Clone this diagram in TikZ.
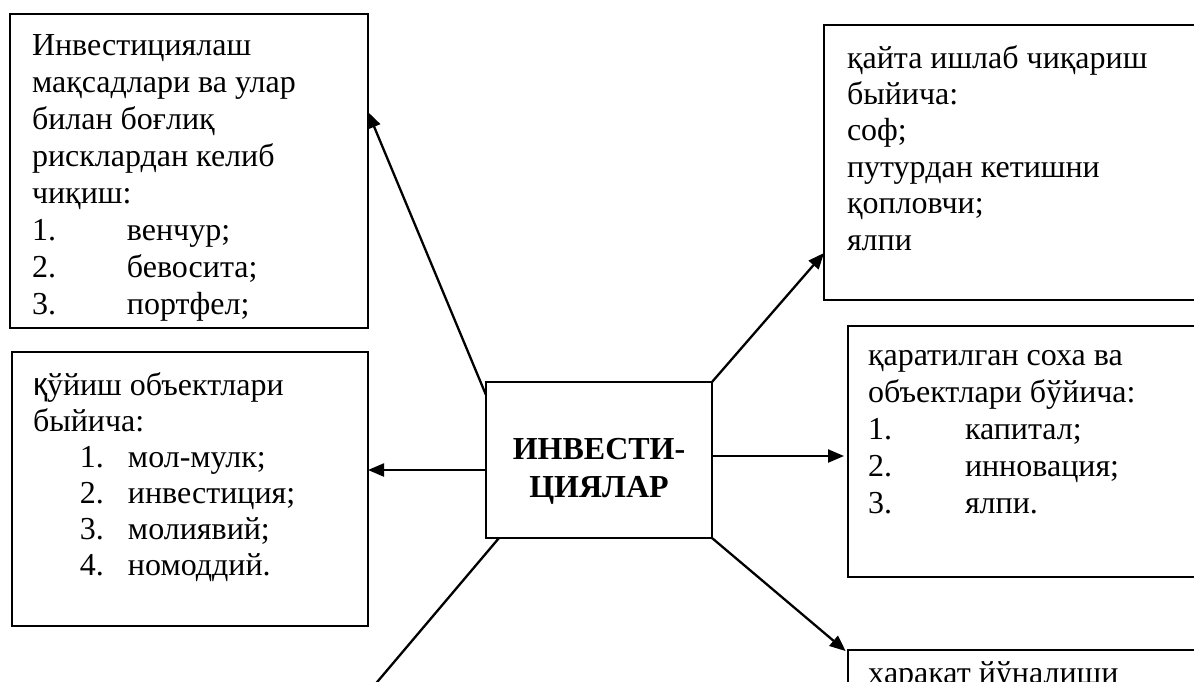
\documentclass[tikz,border=0pt]{standalone}
\usepackage{fontspec}
\setmainfont{Liberation Serif}
\newfontfamily\sansq{Liberation Sans}
\usetikzlibrary{arrows.meta}
\begin{document}
\begin{tikzpicture}[x=1pt,y=-1pt,
  box/.style={draw, line width=2.3pt, inner sep=0pt, outer sep=0pt, anchor=north west},
  txt/.style={anchor=base west, inner sep=0pt, outer sep=0pt, font=\fontsize{32}{37}\selectfont},
  arr/.style={line width=2.3pt, -{Triangle[length=16pt,width=13pt]}},
  conn/.style={line width=2.3pt}]
\useasboundingbox (0,0) rectangle (1194,681);
\clip (0,0) rectangle (1194,681);
% boxes
\node[box, minimum width=358pt, minimum height=314pt] (b1) at (10,14) {};
\node[box, minimum width=420pt, minimum height=275pt] (b2) at (824,25) {};
\node[box, minimum width=356pt, minimum height=274pt] (b3) at (12,352) {};
\node[box, minimum width=400pt, minimum height=251pt] (b4) at (848,326) {};
\node[box, minimum width=400pt, minimum height=120pt] (b5) at (848,650) {};
\node[box, minimum width=226pt, minimum height=156pt] (c) at (486,382) {};
% texts
\node[txt] (t1) at (32,55) {\vtop{\baselineskip=37.1pt
  \hbox{Инвестициялаш}
  \hbox{мақсадлари ва улар}
  \hbox{билан боғлиқ}
  \hbox{рисклардан келиб}
  \hbox{чиқиш:}
  \hbox{\makebox[95pt][l]{1.}венчур;}
  \hbox{\makebox[95pt][l]{2.}бевосита;}
  \hbox{\makebox[95pt][l]{3.}портфел;}}};
\node[txt] (t2) at (847,68) {\vtop{\baselineskip=36.4pt
  \hbox{қайта ишлаб чиқариш}
  \hbox{быйича:}
  \hbox{соф;}
  \hbox{путурдан кетишни}
  \hbox{қопловчи;}
  \hbox{ялпи}}};
\node[txt] (t3) at (33,395) {\vtop{\baselineskip=36pt
  \hbox{{\sansq қ}ўйиш объектлари}
  \hbox{быйича:}
  \hbox{\hspace{47pt}\makebox[48pt][l]{1.}мол-мулк;}
  \hbox{\hspace{47pt}\makebox[48pt][l]{2.}инвестиция;}
  \hbox{\hspace{47pt}\makebox[48pt][l]{3.}молиявий;}
  \hbox{\hspace{47pt}\makebox[48pt][l]{4.}номоддий.}}};
\node[txt] (t4) at (868,365) {\vtop{\baselineskip=37pt
  \hbox{қаратилган соха ва}
  \hbox{объектлари бўйича:}
  \hbox{\makebox[97pt][l]{1.}капитал;}
  \hbox{\makebox[97pt][l]{2.}инновация;}
  \hbox{\makebox[97pt][l]{3.}ялпи.}}};
\node[txt] (t5) at (868,683) {ҳаракат йўналиши};
\node[anchor=base, inner sep=0pt, font=\fontsize{32}{38}\selectfont\bfseries] (ct) at (599,459)
  {\vtop{\baselineskip=38pt\halign{\hfil#\hfil\cr ИНВЕСТИ-\cr ЦИЯЛАР\cr}}};
% connectors
\draw[arr] ([yshift=-13pt]c.north west) -- ([yshift=-98pt]b1.north east);
\draw[arr] ([yshift=-10pt]c.west) -- ([yshift=-10pt]c.west -| b3.east);
\draw[arr, shorten >=4pt] ([yshift=4pt]c.east) -- ([yshift=4pt]c.east -| b4.west);
\draw[arr] (c.north east) -- ([yshift=47pt]b2.south west);
\draw[arr, shorten >=3pt] (c.south east) -- ([yshift=-3pt]b5.north west);
\coordinate (off) at (345,720);
\draw[conn] ([xshift=13pt]c.south west) -- (off);
\end{tikzpicture}
\end{document}
